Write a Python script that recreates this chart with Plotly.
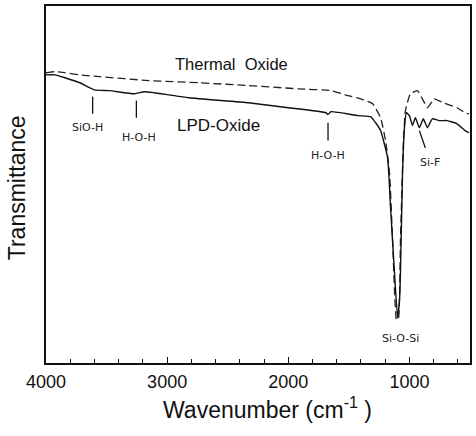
import plotly.graph_objects as go

# Thermal oxide (dashed)
thermal_wn = [4000, 3926, 3844, 3721, 3557, 3148, 2738, 2328, 1918, 1648, 1508, 1402, 1303, 1238,
              1197, 1164, 1139, 1107, 1090, 1074, 1049, 1033, 992, 934, 893, 852, 811, 795, 713,
              607, 541, 508]
thermal_t = [81.3, 81.6, 81.3, 80.7, 80.2, 79.1, 78.5, 77.7, 76.8, 76.3, 74.9, 74.0, 72.6, 68.7,
             62.3, 53.1, 34.4, 12.0, 12.6, 34.4, 62.3, 70.7, 75.4, 76.3, 74.0, 71.5, 73.3, 74.0, 72.8,
             71.5, 70.1, 69.8]

# LPD oxide (solid)
lpd_wn = [4000, 3926, 3844, 3721, 3598, 3475, 3270, 3189, 3107, 2820, 2328, 2000, 1689, 1672, 1648,
          1426, 1320, 1279, 1238, 1180, 1156, 1123, 1098, 1082, 1074, 1057, 1041, 1025, 1000, 975,
          951, 918, 885, 852, 811, 754, 689, 607, 541, 508]
lpd_t = [80.7, 80.7, 79.9, 78.5, 76.5, 76.3, 75.4, 76.0, 75.7, 74.3, 72.9, 71.5, 70.1, 69.6, 70.4,
         69.3, 69.0, 67.3, 65.1, 57.5, 43.6, 25.1, 12.6, 17.6, 25.1, 53.1, 65.9, 70.1, 69.3, 66.5,
         68.7, 65.9, 68.4, 65.9, 68.4, 67.9, 67.9, 67.0, 65.1, 64.5]

x_ticks = [4000, 3000, 2000, 1000]

fig = go.Figure()
fig.add_trace(go.Scatter(x=thermal_wn, y=thermal_t, mode="lines", line_shape="spline",
                         line=dict(color="#222", width=1.3, dash="8px,4px", smoothing=0.4),
                         showlegend=False))
fig.add_trace(go.Scatter(x=lpd_wn, y=lpd_t, mode="lines", line_shape="spline",
                         line=dict(color="#111", width=1.4, smoothing=0.4), showlegend=False))

font = "Liberation Sans, Arial, sans-serif"
small_font = "DejaVu Sans, sans-serif"

# peak marker lines
markers = [((3615, 74.6), (3615, 69.8)), ((3254, 73.5), (3254, 68.7)),
           ((1672, 67.3), (1672, 62.3)), ((918, 65.1), (869, 60.3))]
for (x0, y0), (x1, y1) in markers:
    fig.add_shape(type="line", x0=x0, y0=y0, x1=x1, y1=y1, xref="x", yref="y",
                  line=dict(color="#111", width=1.3))

small = [("SiO-H", 3656, 65.9), ("H-O-H", 3230, 63.1), ("H-O-H", 1672, 58.1),
         ("Si-F", 828, 56.1), ("Si-O-Si", 1074, 7.0)]
for txt, x, y in small:
    fig.add_annotation(x=x, y=y, text=txt, showarrow=False, xref="x", yref="y",
                       font=dict(family=small_font, size=11, color="#222"))

fig.add_annotation(x=2467, y=83.8, text="Thermal\u00a0\u00a0Oxide", showarrow=False,
                   font=dict(family=font, size=16.5, color="#111"))
fig.add_annotation(x=2574, y=66.5, text="LPD-Oxide", showarrow=False,
                   font=dict(family=font, size=17, color="#111"))

# axis titles as annotations for precise placement
fig.add_annotation(x=0.523, y=-0.126, xref="paper", yref="paper", xanchor="center",
                   yanchor="middle", showarrow=False, text="Wavenumber (cm<sup>-1</sup> )",
                   font=dict(family=font, size=23, color="#111"))
fig.add_annotation(x=-0.068, y=0.49, xref="paper", yref="paper", xanchor="center",
                   yanchor="middle", showarrow=False, text="Transmittance", textangle=-90,
                   font=dict(family=font, size=23, color="#111"))

fig.update_layout(
    width=476, height=436,
    margin=dict(l=46, r=4, t=5, b=73),
    paper_bgcolor="white", plot_bgcolor="white",
    font=dict(family=font, color="#111"),
    xaxis=dict(range=[4000, 500], tickvals=x_ticks, ticks="inside", ticklen=6, tickwidth=1.3,
               tickcolor="#111", showgrid=False, zeroline=False, showline=True, linecolor="#111",
               linewidth=1.5, mirror=True, tickfont=dict(size=18, family=font),
               ticklabelstandoff=2,
               minor=dict(dtick=200, tick0=0, ticks="inside", ticklen=4, tickcolor="#111")),
    yaxis=dict(range=[0, 100], showticklabels=False, ticks="", showgrid=False, zeroline=False,
               showline=True, linecolor="#111", linewidth=1.5, mirror=True),
)

fig.write_html("out.html")
